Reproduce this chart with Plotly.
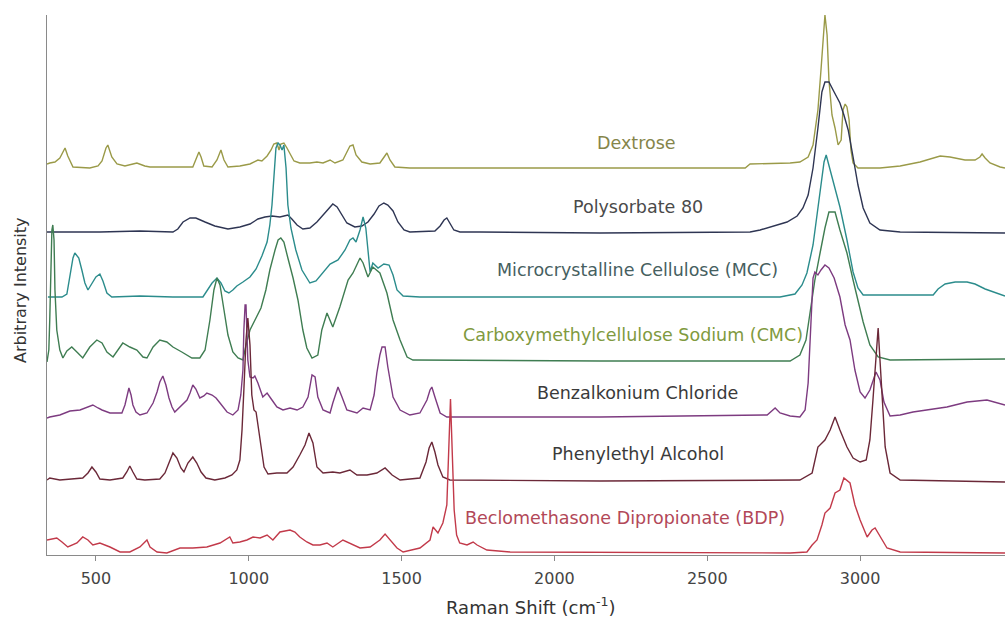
import plotly.graph_objects as go

# ---------------- data (Raman shift in cm-1, arbitrary stacked intensity) ----------------
names = ["Dextrose", "Polysorbate 80", "Microcrystalline Cellulose (MCC)",
         "Carboxymethylcellulose Sodium (CMC)", "Benzalkonium Chloride",
         "Phenylethyl Alcohol", "Beclomethasone Dipropionate (BDP)"]

x_ticks = [500, 1000, 1500, 2000, 2500, 3000]

dextrose_wn = [340, 349, 366, 382, 399, 408, 425, 480, 507, 520, 533, 539, 552, 569, 595, 634, 660, 677,
               817, 830, 837, 844, 853, 880, 896, 909, 919, 932, 971, 1004, 1030, 1043, 1060, 1073, 1082,
               1092, 1099, 1105, 1115, 1125, 1135, 1148, 1167, 1200, 1223, 1243, 1266, 1282, 1308, 1321,
               1331, 1341, 1351, 1370, 1397, 1429, 1442, 1452, 1462, 1478, 1527, 2624, 2640, 2771, 2803,
               2830, 2846, 2862, 2872, 2879, 2885, 2892, 2898, 2908, 2918, 2928, 2938, 2944, 2951, 2957,
               2964, 2970, 2977, 2993, 3065, 3131, 3196, 3262, 3294, 3343, 3376, 3392, 3399, 3409, 3425,
               3458, 3474]
dextrose_int = [391, 392, 393, 397, 407, 399, 388, 387, 389, 394, 407, 410, 398, 391, 389, 392, 389, 388,
                388, 397, 403, 398, 389, 388, 395, 405, 395, 388, 389, 391, 395, 394, 399, 405, 411,
                412, 405, 411, 412, 407, 401, 394, 392, 392, 393, 392, 395, 392, 395, 403,
                409, 410, 400, 393, 391, 392, 397, 402, 395, 388, 387, 387, 391, 392, 393,
                398, 410, 445, 485, 520, 540, 520, 475, 440, 427, 410, 415, 445, 451, 448,
                435, 405, 392, 387, 387, 389, 393, 399, 398, 395, 395, 398, 401, 397, 392,
                388, 387]

polysorbate_wn = [340, 513, 644, 752, 768, 785, 808, 827, 857, 889, 932, 971, 1004, 1030, 1053, 1076, 1102,
                  1128, 1141, 1158, 1177, 1200, 1223, 1243, 1259, 1275, 1289, 1302, 1321, 1347, 1370, 1390,
                  1410, 1426, 1442, 1455, 1472, 1488, 1508, 1527, 1609, 1626, 1639, 1648, 1658, 1671, 1691,
                  1756, 2149, 2640, 2673, 2715, 2761, 2794, 2813, 2830, 2846, 2862, 2875, 2885, 2898, 2915,
                  2934, 2947, 2961, 2977, 2993, 3010, 3032, 3065, 3131, 3474]
polysorbate_int = [323, 323, 324, 323, 326, 333, 337, 337, 333, 329, 326, 328, 331, 336, 338, 339, 338,
                   340, 336, 330, 326, 327, 333, 340, 346, 351, 348, 342, 332, 328, 329, 333,
                   341, 349, 352, 350, 344, 333, 325, 323, 324, 329, 335, 337, 332, 325, 323,
                   323, 322, 323, 325, 329, 333, 339, 347, 360, 387, 427, 463, 473, 473, 463,
                   452, 440, 425, 398, 370, 347, 332, 325, 323, 322]

mcc_wn = [343, 389, 405, 415, 425, 431, 444, 454, 464, 474, 487, 500, 513, 523, 536, 552, 644, 752, 850,
          866, 880, 896, 909, 922, 935, 948, 961, 981, 1004, 1024, 1043, 1060, 1069, 1076, 1082, 1089,
          1096, 1102, 1109, 1115, 1122, 1128, 1138, 1154, 1174, 1200, 1220, 1239, 1266, 1292, 1315, 1331,
          1341, 1351, 1364, 1374, 1383, 1390, 1397, 1406, 1423, 1442, 1459, 1472, 1485, 1505, 1560, 2149,
          2738, 2787, 2810, 2826, 2846, 2859, 2872, 2882, 2889, 2898, 2911, 2934, 2957, 2977, 2993, 3010,
          3239, 3255, 3278, 3311, 3350, 3376, 3409, 3474]
mcc_int = [258, 258, 261, 280, 297, 302, 297, 285, 272, 265, 271, 278, 281, 274, 262, 258, 259, 258, 258,
           265, 272, 277, 272, 264, 262, 265, 269, 273, 278, 286, 299, 313, 330, 350, 382, 407,
           412, 410, 405, 410, 387, 350, 327, 305, 285, 272, 274, 281, 291, 295, 305, 315,
           317, 313, 325, 338, 327, 305, 283, 292, 287, 291, 290, 280, 265, 259, 258, 258,
           258, 261, 270, 282, 310, 340, 370, 393, 400, 390, 375, 348, 315, 283, 267, 260,
           260, 266, 271, 273, 273, 271, 266, 259]

cmc_wn = [340, 346, 349, 353, 356, 359, 363, 366, 372, 382, 392, 405, 421, 441, 457, 480, 503, 520, 536,
          556, 572, 588, 611, 634, 654, 667, 687, 709, 732, 752, 781, 814, 840, 857, 873, 886, 896, 906,
          919, 932, 948, 965, 981, 991, 1004, 1020, 1040, 1056, 1069, 1086, 1096, 1105, 1115, 1128, 1145,
          1161, 1177, 1190, 1207, 1226, 1239, 1256, 1275, 1298, 1325, 1341, 1364, 1374, 1390, 1406, 1429,
          1452, 1472, 1495, 1518, 1537, 2149, 2771, 2803, 2823, 2836, 2852, 2869, 2885, 2898, 2918, 2934,
          2957, 2977, 2993, 3010, 3032, 3059, 3098, 3474]
cmc_int = [193, 205, 235, 285, 325, 330, 315, 265, 225, 205, 197, 204, 208, 202, 197, 208, 215, 212, 203,
           198, 205, 212, 208, 205, 198, 197, 208, 215, 213, 208, 203, 197, 197, 205, 235, 265, 277, 270,
           245, 220, 203, 197, 195, 210, 225, 235, 247, 265, 285, 305, 315, 317, 313, 297, 277,
           255, 225, 207, 197, 200, 225, 242, 228, 248, 275, 282, 297, 292, 278, 288, 282,
           262, 235, 215, 198, 195, 194, 194, 200, 215, 240, 275, 302, 327, 343, 343, 325,
           302, 275, 253, 233, 210, 198, 195, 196]

benzalkonium_wn = [340, 349, 382, 415, 448, 474, 490, 507, 520, 546, 585, 595, 601, 608, 615, 621, 631, 644,
                   667, 677, 687, 700, 709, 719, 729, 739, 749, 758, 775, 798, 808, 817, 827, 840, 853, 863,
                   880, 893, 906, 929, 948, 965, 974, 981, 984, 988, 991, 994, 997, 1004, 1014, 1020, 1030,
                   1046, 1060, 1076, 1092, 1112, 1135, 1158, 1177, 1194, 1200, 1207, 1217, 1226, 1243, 1266,
                   1275, 1285, 1292, 1305, 1321, 1354, 1374, 1397, 1410, 1419, 1429, 1436, 1446, 1455, 1472,
                   1495, 1527, 1560, 1583, 1593, 1599, 1609, 1626, 1648, 2149, 2696, 2712, 2722, 2738, 2771,
                   2803, 2820, 2830, 2836, 2843, 2846, 2852, 2862, 2872, 2885, 2898, 2915, 2934, 2951, 2967,
                   2983, 3000, 3016, 3032, 3052, 3065, 3078, 3098, 3131, 3173, 3284, 3350, 3415, 3474]
benzalkonium_int = [137, 138, 140, 144, 145, 148, 150, 147, 145, 142, 142, 150, 159, 167, 160, 150, 143, 140,
                    142, 147, 152, 163, 173, 179, 170, 157, 148, 143, 148, 155, 162, 170, 166, 157, 159, 162,
                    160, 157, 152, 143, 140, 145, 160, 185, 225, 250, 250, 225, 195, 178, 177, 179, 172,
                    158, 162, 155, 148, 145, 147, 145, 148, 158, 170, 180, 178, 158, 145, 142,
                    152, 162, 168, 158, 145, 142, 147, 145, 160, 182, 200, 208, 208, 188, 158,
                    145, 140, 142, 155, 165, 168, 158, 142, 138, 138, 140, 144, 147, 142, 139,
                    138, 145, 172, 215, 255, 277, 283, 280, 285, 290, 287, 277, 258, 230, 215,
                    185, 163, 157, 165, 183, 175, 153, 139, 140, 143, 148, 153, 155, 150]

phenylethyl_wn = [340, 349, 382, 457, 474, 487, 500, 513, 546, 588, 601, 611, 621, 634, 660, 709, 726, 739,
                  752, 765, 778, 788, 801, 817, 830, 844, 860, 889, 922, 945, 961, 971, 978, 984, 991, 997,
                  1004, 1010, 1017, 1024, 1030, 1040, 1050, 1063, 1092, 1125, 1145, 1167, 1184, 1197, 1210,
                  1223, 1243, 1275, 1298, 1331, 1354, 1387, 1419, 1446, 1469, 1495, 1560, 1580, 1590, 1599,
                  1609, 1619, 1635, 1658, 2149, 2803, 2843, 2862, 2885, 2902, 2918, 2934, 2957, 2977, 3000,
                  3020, 3032, 3042, 3052, 3059, 3065, 3072, 3082, 3098, 3131, 3474]
phenylethyl_int = [75, 77, 75, 77, 82, 88, 83, 76, 75, 77, 83, 89, 83, 76, 75, 76, 82, 93,
                   102, 97, 87, 83, 92, 98, 92, 83, 77, 75, 77, 80, 85, 95, 125, 165, 215, 237,
                   210, 160, 145, 143, 130, 105, 88, 81, 82, 82, 88, 100, 110, 122, 112,
                   88, 82, 83, 82, 85, 80, 80, 82, 87, 80, 75, 77, 93, 107, 113,
                   103, 90, 78, 75, 74, 75, 82, 108, 115, 125, 138, 125, 108, 97, 93,
                   95, 115, 155, 195, 227, 195, 155, 108, 82, 75, 73]

bdp_wn = [340, 372, 389, 408, 438, 457, 474, 490, 513, 546, 579, 611, 644, 667, 677, 700, 732, 775, 817,
          863, 906, 938, 948, 971, 994, 1014, 1037, 1060, 1079, 1102, 1135, 1151, 1167, 1190, 1210, 1233,
          1256, 1275, 1308, 1341, 1364, 1397, 1429, 1446, 1462, 1485, 1505, 1560, 1593, 1603, 1619, 1635,
          1648, 1654, 1660, 1666, 1672, 1680, 1690, 1714, 1734, 1747, 1779, 1855, 2476, 2771, 2826, 2843,
          2859, 2875, 2885, 2902, 2918, 2934, 2947, 2967, 2983, 3000, 3023, 3039, 3049, 3065, 3088, 3131,
          3474]
bdp_int = [15, 17, 13, 8, 12, 18, 15, 10, 12, 8, 3, 3, 8, 15, 8, 3, 2, 7, 7,
           8, 12, 18, 12, 13, 15, 18, 17, 20, 15, 23, 25, 23, 18, 13, 10, 10,
           12, 8, 15, 10, 7, 8, 15, 21, 15, 7, 3, 7, 15, 28, 22, 32,
           50, 110, 156, 100, 45, 20, 12, 10, 13, 10, 5, 3, 2, 2, 3, 10,
           15, 30, 42, 47, 62, 65, 77, 72, 50, 35, 18, 25, 27, 19, 7, 3,
           2]

spectra_wn = [dextrose_wn, polysorbate_wn, mcc_wn, cmc_wn, benzalkonium_wn, phenylethyl_wn, bdp_wn]
spectra_int = [dextrose_int, polysorbate_int, mcc_int, cmc_int, benzalkonium_int, phenylethyl_int, bdp_int]

# ---------------- styling ----------------
line_colors = ["#9a9a48", "#2e3553", "#2b8c8c", "#3f7d52", "#7d3b80", "#6b2838", "#c23a4a"]
label_colors = ["#85854a", "#4a4a4a", "#46605f", "#7f9a40", "#3a3a3a", "#3a3a3a", "#b24858"]
label_pos = [(2270, 412), (2273, 348), (2273, 285), (2257, 220), (2273, 162), (2273, 101), (2231, 37)]

FONT = "DejaVu Sans"

fig = go.Figure()
for wn, inten, col, nm in zip(spectra_wn, spectra_int, line_colors, names):
    fig.add_trace(go.Scatter(x=wn, y=inten, mode="lines", name=nm,
                             line=dict(color=col, width=1.4), hoverinfo="skip"))

for nm, col, (lx, ly) in zip(names, label_colors, label_pos):
    fig.add_annotation(x=lx, y=ly, xref="x", yref="y", text=nm, showarrow=False,
                       font=dict(family=FONT, size=17.5, color=col), xanchor="center", yanchor="middle")

fig.add_annotation(x=(20 - 47) / 958, y=(555 - 290) / 540, xref="paper", yref="paper",
                   text="Arbitrary Intensity", textangle=-90, showarrow=False,
                   font=dict(family=FONT, size=16, color="#333333"), xanchor="center", yanchor="middle")
fig.add_annotation(x=(531 - 47) / 958, y=(555 - 606) / 540, xref="paper", yref="paper",
                   text="Raman Shift (cm<sup>-1</sup>)", showarrow=False,
                   font=dict(family=FONT, size=18, color="#333333"), xanchor="center", yanchor="middle")

fig.update_layout(
    width=1005, height=619,
    margin=dict(l=47, r=0, t=15, b=64),
    paper_bgcolor="white", plot_bgcolor="white",
    showlegend=False,
    font=dict(family=FONT, color="#444444"),
    xaxis=dict(range=[340, 3474], tickvals=x_ticks, ticktext=[str(t) for t in x_ticks],
               showgrid=False, zeroline=False, showline=True, linecolor="#8a8a8a", linewidth=1,
               ticks="outside", ticklen=5, tickcolor="#8a8a8a", ticklabelstandoff=4,
               tickfont=dict(family=FONT, size=16, color="#444444")),
    yaxis=dict(range=[0, 540], showgrid=False, zeroline=False, showline=True, linecolor="#8a8a8a",
               linewidth=1, showticklabels=False, ticks=""),
)

fig.write_html("out.html")
